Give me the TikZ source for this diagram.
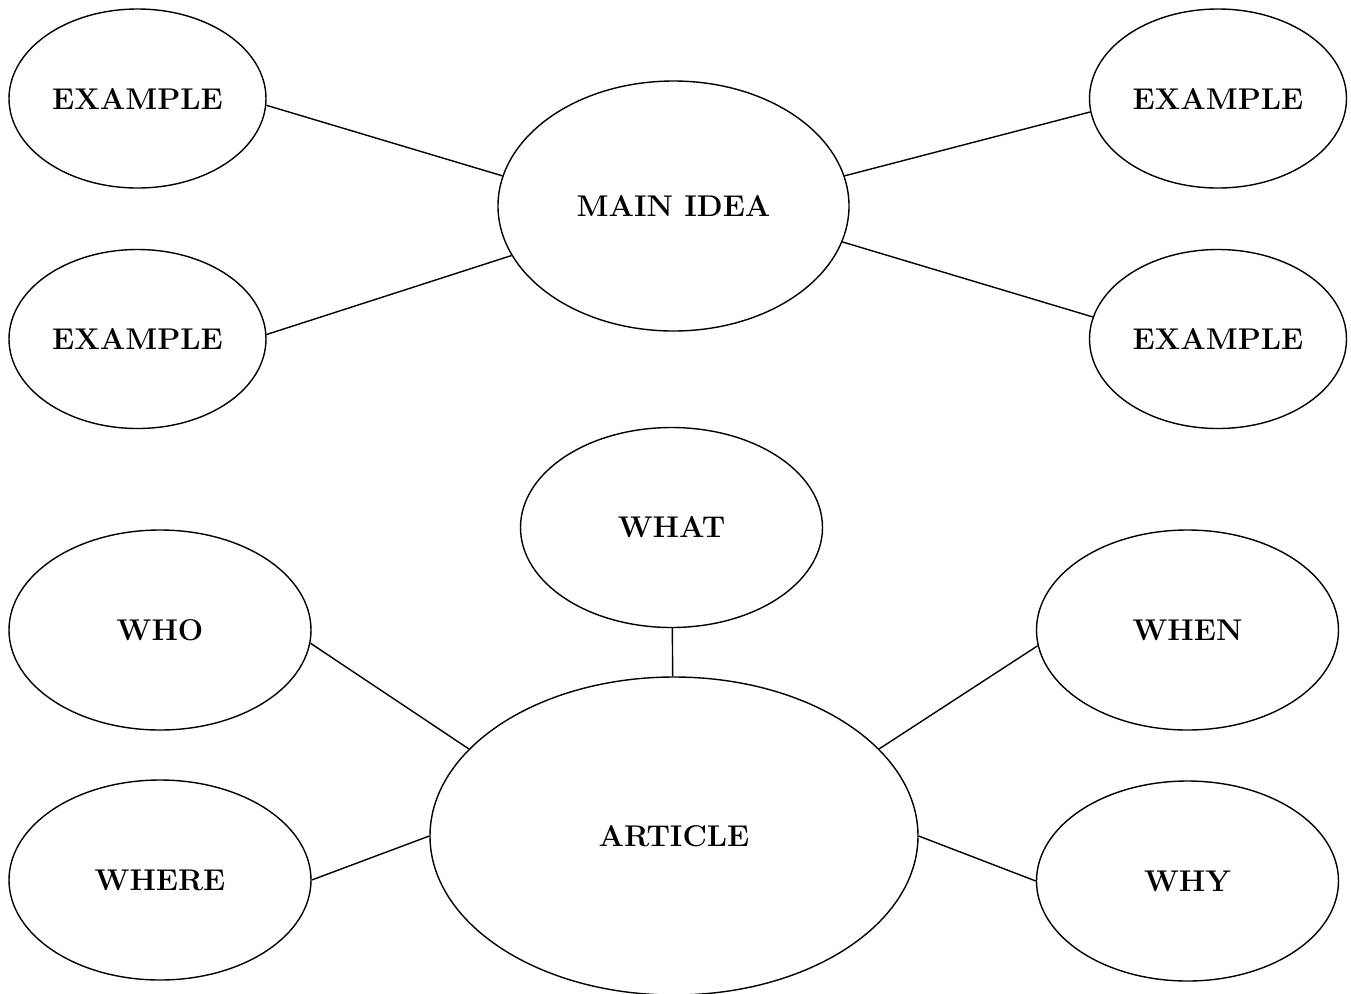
\documentclass[tikz,border=0pt]{standalone}
\usepackage{tikz}
\usetikzlibrary{shapes.geometric}

\begin{document}
\begin{tikzpicture}[x = 0.5pt, y = -0.5pt, line width = 0.7pt,
			bubble/.style = {ellipse, draw, inner sep = 0pt, font = \fontsize{15}{17}\selectfont\bfseries},
			small/.style = {bubble, minimum width = 128.5pt, minimum height = 89.5pt},
			mid/.style = {bubble, minimum width = 151pt, minimum height = 100pt}]
			\useasboundingbox (0,0) rectangle (1351,993);
			% main idea map
			\node (main) at (673.5,206) [bubble, minimum width = 175.5pt, minimum height = 125pt] {MAIN IDEA};
			\node (ex1) at (137.5,98.5) [small] {EXAMPLE};
			\node (ex2) at (137.5,339) [small] {EXAMPLE};
			\node (ex3) at (1218,98.5) [small] {EXAMPLE};
			\node (ex4) at (1218,339) [small] {EXAMPLE};
			\draw (ex1.-3) edge (main.170);
			\draw (ex2.2) edge (main.197);
			\draw (main.10) edge (ex3.186);
			\draw (main.-12) edge (ex4.170);
			% article map
			\node (art) at (674,836) [bubble, minimum width = 244pt, minimum height = 159pt] {ARTICLE};
			\node (what) at (671.5,527.5) [mid] {WHAT};
			\node (who) at (160,630) [mid] {WHO};
			\node (where) at (160,880) [mid] {WHERE};
			\node (when) at (1187.5,630) [mid] {WHEN};
			\node (why) at (1187.5,881) [mid] {WHY};
			\draw (what) edge (art);
			\draw (who.-5) edge (art.157);
			\draw (where.0) edge (art.180);
			\draw (art.23) edge (when.186);
			\draw (art.0) edge (why.180);
			\end{tikzpicture}
\end{document}
